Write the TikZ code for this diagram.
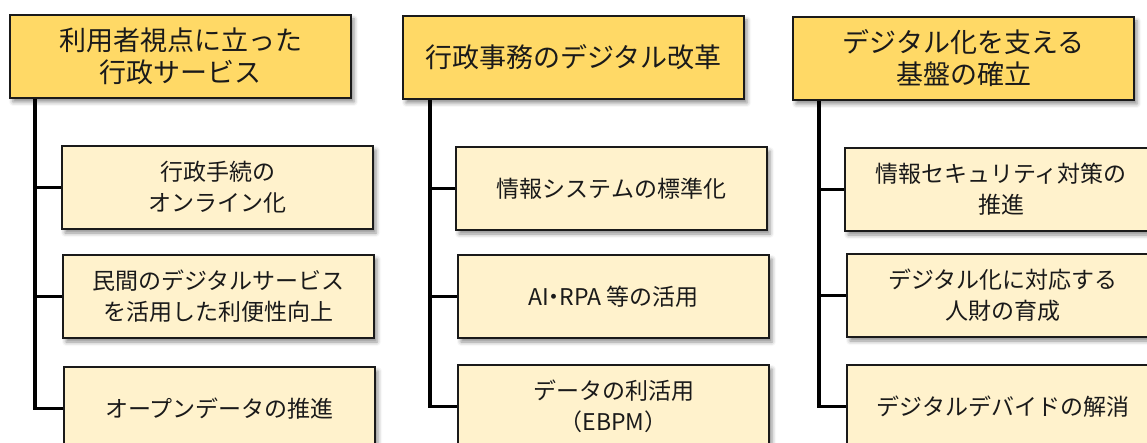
\documentclass[tikz,border=0pt]{standalone}
\usepackage{fontspec}
\newfontfamily\jp{Noto Sans CJK JP}
\usetikzlibrary{shadows.blur}
\definecolor{hdrfill}{HTML}{FFD966}
\definecolor{subfill}{HTML}{FFF2CC}
\definecolor{edgecol}{HTML}{1A1A1A}
\begin{document}
\begin{tikzpicture}[x=1pt,y=-1pt,
  boxbase/.style={draw=edgecol, line width=2pt, anchor=north west, inner sep=0pt,
    align=center, text=edgecol,
    blur shadow={shadow xshift=3pt, shadow yshift=-4pt, shadow blur radius=4pt, shadow opacity=45}},
  hbox/.style={boxbase, fill=hdrfill, minimum width=341pt, minimum height=83pt,
    font=\jp\fontsize{27}{32}\selectfont},
  sbox/.style={boxbase, fill=subfill, minimum width=311pt, minimum height=83pt,
    font=\jp\fontsize{23}{31}\selectfont},
  conn/.style={line width=3.5pt, draw=black}]
\useasboundingbox (0,0) rectangle (1147,443);
\clip (0,0) rectangle (1147,443);

% headers
\node[hbox] (h1) at (9,14) {利用者視点に立った\\行政サービス};
\node[hbox] (h2) at (402,15) {行政事務のデジタル改革};
\node[hbox] (h3) at (792,16) {デジタル化を支える\\基盤の確立};

% column 1
\node[sbox] (c11) at (61,145) {行政手続の\\オンライン化};
\node[sbox] (c12) at (62,254) {民間のデジタルサービス\\を活用した利便性向上};
\node[sbox] (c13) at (63,366) {オープンデータの推進};

% column 2
\node[sbox] (c21) at (455,146) {情報システムの標準化};
\node[sbox] (c22) at (457,254) {AI\makebox[0.45em][c]{・}RPA 等の活用};
\node[sbox] (c23) at (457,364) {データの利活用\\（EBPM）};

% column 3
\node[sbox, minimum width=312pt] (c31) at (844,147) {情報セキュリティ対策の\\推進};
\node[sbox, minimum width=312pt] (c32) at (846,253) {デジタル化に対応する\\人財の育成};
\node[sbox, minimum width=312pt] (c33) at (846,364) {デジタルデバイドの解消};

% trunks
\coordinate (t1) at ([xshift=26pt]h1.south west);
\coordinate (t2) at ([xshift=28pt]h2.south west);
\coordinate (t3) at ([xshift=27pt]h3.south west);

\draw[conn] (t1) |- (c13.west);
\draw[conn] (t1 |- c11.west) -- (c11.west);
\draw[conn] (t1 |- c12.west) -- (c12.west);

\draw[conn] (t2) |- (c23.west);
\draw[conn] (t2 |- c21.west) -- (c21.west);
\draw[conn] (t2 |- c22.west) -- (c22.west);

\draw[conn] (t3) |- (c33.west);
\draw[conn] (t3 |- c31.west) -- (c31.west);
\draw[conn] (t3 |- c32.west) -- (c32.west);
\end{tikzpicture}
\end{document}
